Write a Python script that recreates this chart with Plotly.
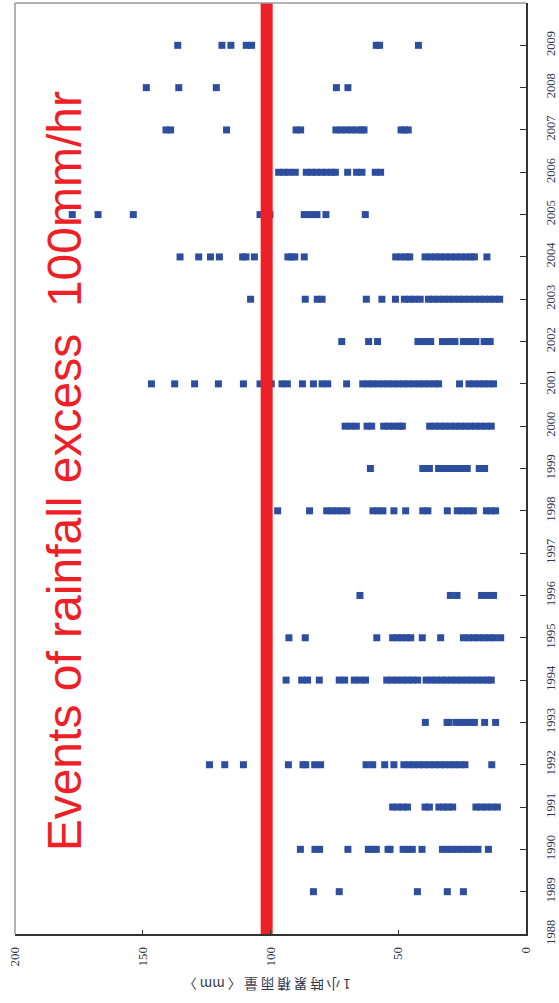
import plotly.graph_objects as go

# ---- data ----
years = list(range(1988, 2011))
year_ticks = list(range(1988, 2011))
value_ticks = [0, 50, 100, 150, 200]
threshold = 101.5  # red 100 mm/hr band

v1988 = []
v1989 = [83.2, 73.1, 42.5, 30.8, 24.5]
v1990 = [88.3, 82.6, 80.8, 69.7, 61.7, 60.1, 58.6, 54.0, 53.2, 48.1, 46.3, 44.5, 40.7,
         32.7, 30.7, 28.7, 26.7, 24.7, 22.7, 20.7, 18.8, 14.7]
v1991 = [52.2, 50.2, 48.3, 46.4, 39.5, 37.8, 34.1, 32.3, 30.5, 28.7, 19.6, 17.7, 15.6, 13.4, 11.2]
v1992 = [123.9, 117.9, 110.6, 93.0, 87.3, 86.2, 82.7, 80.4, 62.6, 60.0, 55.3, 51.7, 47.8,
         45.8, 43.8, 41.8, 39.8, 37.8, 35.8, 33.8, 31.8, 29.8, 27.8, 25.8, 23.9, 13.4]
v1993 = [39.4, 30.9, 30.1, 27.3, 25.5, 23.7, 21.9, 20.2, 16.2, 11.9]
v1994 = [93.9, 87.8, 85.5, 80.9, 73.1, 71.0, 67.2, 65.0, 62.8, 54.5, 52.5, 50.5, 48.5, 46.5,
         44.5, 42.4, 39.1, 37.1, 35.1, 33.1, 31.1, 29.1, 27.1, 25.1, 23.1, 21.1, 19.1, 17.1,
         15.1, 13.6]
v1995 = [92.8, 86.4, 58.4, 52.2, 50.4, 48.6, 46.8, 45.1, 40.6, 33.4, 24.5, 22.5, 20.5, 18.5,
         16.5, 14.5, 12.5, 9.9]
v1996 = [65.0, 29.6, 27.0, 17.4, 15.1, 12.7]
v1997 = []
v1998 = [97.2, 84.7, 78.0, 76.0, 74.0, 72.0, 70.1, 59.9, 58.0, 56.0, 51.7, 47.1, 40.4, 38.4,
         30.8, 26.9, 24.8, 22.7, 20.6, 15.5, 13.7, 11.9]
v1999 = [60.9, 40.4, 37.8, 34.2, 32.2, 30.2, 28.2, 26.2, 24.2, 23.0, 18.3, 16.2]
v2000 = [70.8, 68.6, 66.4, 62.2, 60.4, 55.7, 53.7, 51.7, 49.7, 48.4, 37.7, 35.7, 33.7, 31.7,
         29.7, 27.7, 25.7, 23.7, 21.7, 19.7, 17.7, 15.7, 13.6]
v2001 = [146.6, 137.5, 129.7, 120.4, 110.6, 104.1, 102.0, 99.7, 95.5, 93.4, 87.5, 83.2, 79.8,
         77.6, 70.2, 63.9, 61.9, 59.9, 57.9, 55.9, 53.9, 51.9, 49.9, 47.9, 45.9, 43.9, 41.9,
         39.9, 37.9, 35.9, 34.2, 26.0, 22.3, 20.3, 18.3, 16.3, 14.5, 12.7]
v2002 = [72.1, 61.6, 58.1, 42.3, 40.3, 38.3, 37.3, 32.7, 30.7, 28.7, 27.8, 24.5, 22.5, 20.5,
         19.6, 16.4, 15.2, 14.0]
v2003 = [107.8, 86.4, 81.7, 79.8, 62.5, 56.4, 51.1, 47.6, 45.6, 43.6, 41.4, 38.2, 36.2, 34.2,
         32.2, 30.2, 28.2, 26.2, 24.2, 22.2, 20.2, 18.2, 16.2, 14.2, 12.2, 10.3]
v2004 = [135.4, 128.1, 123.5, 120.0, 110.9, 109.6, 106.3, 93.2, 91.8, 90.5, 86.8, 51.0, 49.0,
         47.0, 45.5, 39.5, 37.5, 35.5, 33.5, 31.5, 29.5, 27.5, 25.5, 23.5, 21.5, 20.2, 15.3]
v2005 = [177.6, 167.5, 153.7, 104.1, 100.2, 86.8, 84.3, 81.8, 78.3, 62.9]
v2006 = [96.8, 94.8, 92.8, 90.3, 86.0, 84.0, 82.0, 80.0, 78.0, 76.0, 74.6, 69.8, 66.3, 64.2,
         59.0, 56.9]
v2007 = [140.9, 139.1, 117.2, 90.0, 88.2, 74.4, 72.4, 70.4, 68.4, 66.4, 64.4, 63.4, 48.9,
         47.5, 46.1]
v2008 = [148.6, 135.9, 121.2, 74.2, 69.7]
v2009 = [136.3, 119.0, 115.5, 109.5, 107.4, 58.6, 57.3, 42.1]
v2010 = []

per_year = [v1988, v1989, v1990, v1991, v1992, v1993, v1994, v1995, v1996, v1997, v1998,
            v1999, v2000, v2001, v2002, v2003, v2004, v2005, v2006, v2007, v2008, v2009, v2010]

xs, ys = [], []
for yr, vals in zip(years, per_year):
    for v in vals:
        xs.append(v)
        ys.append(yr)

fig = go.Figure()
fig.add_trace(go.Scatter(
    x=xs, y=ys, mode="markers",
    marker=dict(symbol="square", size=7, color="#2d4e9e", line=dict(width=0)),
    showlegend=False, hoverinfo="skip"))
fig.add_trace(go.Scatter(
    x=[threshold, threshold], y=[years[0], years[-1]], mode="lines",
    line=dict(color="#ee2026", width=12), showlegend=False, hoverinfo="skip"))

tick_font = dict(family="Liberation Serif", size=13, color="#33364f")

fig.update_layout(
    width=559, height=1003,
    margin=dict(l=15, r=33, t=3, b=69, autoexpand=False),
    paper_bgcolor="white", plot_bgcolor="white",
    xaxis=dict(range=[200, 0], tickvals=value_ticks, ticktext=[str(v) for v in value_ticks],
               tickangle=-90, ticks="inside", ticklen=4, tickcolor="#333", tickwidth=1,
               showline=True, linecolor="#333", linewidth=1.5, showgrid=False, zeroline=False,
               tickfont=tick_font, ticklabelstandoff=6, automargin=False),
    yaxis=dict(range=[1988, 2010], side="right", tickvals=year_ticks,
               ticktext=[str(v) for v in year_ticks], tickangle=-90,
               ticks="inside", ticklen=6, tickcolor="#333", tickwidth=1,
               showline=True, linecolor="#333", linewidth=1.5, showgrid=False, zeroline=False,
               tickfont=dict(family="Liberation Serif", size=12.5, color="#33364f"),
               ticklabelstandoff=12, automargin=False),
    shapes=[
        dict(type="line", xref="paper", yref="paper", x0=0, x1=0, y0=0, y1=1,
             line=dict(color="#9a9a9a", width=1.5)),
        dict(type="line", xref="paper", yref="paper", x0=0, x1=1, y0=1, y1=1,
             line=dict(color="#9a9a9a", width=1.5)),
    ],
    annotations=[
        dict(text="Events of rainfall excess  100mm/hr", xref="paper", yref="paper",
             x=0.096, y=0.497, xanchor="center", yanchor="middle", textangle=-90,
             showarrow=False,
             font=dict(family="Liberation Sans", size=48, color="#ee2026")),
        dict(text="1 小 時 累 積 雨 量 〈 mm 〉", xref="paper", yref="paper",
             x=0.493, y=-0.055, xanchor="center", yanchor="middle", textangle=180,
             showarrow=False,
             font=dict(family="Noto Sans CJK TC", size=13.5, color="#33364f")),
    ],
)

fig.write_html("out.html", post_script="document.body.style.margin='0';",
               config={"displayModeBar": False})
